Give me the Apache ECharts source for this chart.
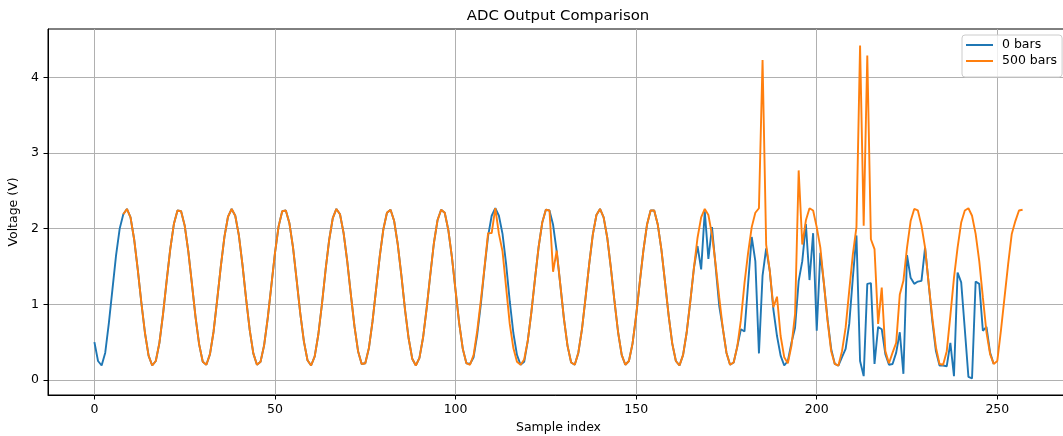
<!DOCTYPE html>
<html>
<head>
<meta charset="utf-8">
<script src="https://cdn.jsdelivr.net/npm/echarts@6/dist/echarts.min.js"></script>
<style>
  html, body { margin: 0; padding: 0; background: #ffffff; overflow: hidden; }
  #chart { width: 1063px; height: 436px; }
</style>
</head>
<body>
<div id="chart"></div>
<script>
// ADC samples for the two pressure cases
const zeroBarsStart = 0;
const zeroBars = [
  0.50, 0.25, 0.19, 0.36, 0.75, 1.20, 1.65, 2.00, 2.19, 2.26,
  2.15, 1.86, 1.46, 1.02, 0.62, 0.32, 0.19, 0.25, 0.49, 0.87,
  1.31, 1.73, 2.06, 2.24, 2.23, 2.04, 1.70, 1.27, 0.83, 0.47,
  0.24, 0.20, 0.34, 0.64, 1.06, 1.50, 1.89, 2.16, 2.26, 2.17,
  1.91, 1.52, 1.07, 0.66, 0.35, 0.20, 0.24, 0.46, 0.82, 1.25,
  1.68, 2.03, 2.23, 2.24, 2.07, 1.75, 1.32, 0.88, 0.51, 0.26,
  0.19, 0.31, 0.60, 1.00, 1.45, 1.85, 2.14, 2.26, 2.19, 1.94,
  1.57, 1.13, 0.71, 0.38, 0.21, 0.22, 0.42, 0.77, 1.20, 1.63,
  1.99, 2.21, 2.25, 2.10, 1.79, 1.38, 0.93, 0.55, 0.28, 0.19,
  0.29, 0.56, 0.95, 1.39, 1.81, 2.11, 2.25, 2.21, 1.98, 1.62,
  1.18, 0.75, 0.41, 0.22, 0.21, 0.30, 0.60, 1.00, 1.47, 1.90,
  2.17, 2.27, 2.17, 1.93, 1.53, 1.04, 0.62, 0.33, 0.20, 0.24,
  0.52, 0.90, 1.34, 1.76, 2.08, 2.25, 2.24, 2.05, 1.70, 1.26,
  0.81, 0.45, 0.23, 0.20, 0.36, 0.67, 1.09, 1.53, 1.92, 2.18,
  2.26, 2.15, 1.88, 1.48, 1.04, 0.63, 0.33, 0.20, 0.25, 0.48,
  0.85, 1.29, 1.71, 2.05, 2.24, 2.24, 2.05, 1.72, 1.29, 0.85,
  0.48, 0.25, 0.19, 0.33, 0.63, 1.04, 1.48, 1.77, 1.46, 2.23,
  1.60, 2.02, 1.50, 0.98, 0.68, 0.36, 0.20, 0.23, 0.44, 0.67,
  0.64, 1.27, 1.89, 1.57, 0.35, 1.38, 1.74, 1.44, 0.93, 0.58,
  0.32, 0.19, 0.25, 0.49, 0.69, 1.31, 1.57, 2.06, 1.32, 1.94,
  0.65, 1.68, 1.27, 0.80, 0.41, 0.21, 0.19, 0.30, 0.41, 0.74,
  1.35, 1.91, 0.25, 0.05, 1.27, 1.28, 0.21, 0.70, 0.67, 0.34,
  0.20, 0.21, 0.36, 0.63, 0.08, 1.65, 1.35, 1.27, 1.30, 1.31,
  1.75, 1.27, 0.78, 0.38, 0.19, 0.19, 0.18, 0.49, 0.05, 1.42,
  1.29, 0.67, 0.04, 0.02, 1.30, 1.27, 0.65, 0.70, 0.36, 0.21
];

const fiveHundredBarsStart = 8;
const fiveHundredBars = [
  2.19, 2.26,
  2.15, 1.86, 1.46, 1.02, 0.62, 0.32, 0.19, 0.25, 0.49, 0.87,
  1.31, 1.73, 2.06, 2.24, 2.23, 2.04, 1.70, 1.27, 0.83, 0.47,
  0.24, 0.20, 0.34, 0.64, 1.06, 1.50, 1.89, 2.16, 2.26, 2.17,
  1.91, 1.52, 1.07, 0.66, 0.35, 0.20, 0.24, 0.46, 0.82, 1.25,
  1.68, 2.03, 2.23, 2.24, 2.07, 1.75, 1.32, 0.88, 0.51, 0.26,
  0.19, 0.31, 0.60, 1.00, 1.45, 1.85, 2.14, 2.26, 2.19, 1.94,
  1.57, 1.13, 0.71, 0.38, 0.21, 0.22, 0.42, 0.77, 1.20, 1.63,
  1.99, 2.21, 2.25, 2.10, 1.79, 1.38, 0.93, 0.55, 0.28, 0.19,
  0.29, 0.56, 0.95, 1.39, 1.81, 2.11, 2.25, 2.21, 1.98, 1.62,
  1.18, 0.75, 0.41, 0.22,
  0.20, 0.33, 0.65, 1.05, 1.48, 1.94,
  1.94, 2.27, 1.93, 1.70, 1.22, 0.74, 0.42, 0.24, 0.20, 0.27,
  0.52, 0.90, 1.34, 1.76, 2.08, 2.25, 2.24, 1.43, 1.71, 1.26,
  0.81, 0.45, 0.23, 0.20, 0.36, 0.67, 1.09, 1.53, 1.92, 2.18,
  2.26, 2.15, 1.88, 1.48, 1.04, 0.63, 0.33, 0.20, 0.25, 0.48,
  0.85, 1.29, 1.71, 2.05, 2.24, 2.24, 2.05, 1.72, 1.29, 0.85,
  0.48, 0.25, 0.19, 0.33, 0.63, 1.04, 1.48, 1.88, 2.15, 2.26,
  2.18, 1.92, 1.53, 1.09, 0.68, 0.36, 0.20, 0.23, 0.44, 0.79,
  1.28, 1.68, 2.02, 2.21, 2.27, 4.23, 1.79, 1.44, 0.96, 1.10,
  0.58, 0.30, 0.22, 0.45, 0.87, 2.77, 1.79, 2.11, 2.27, 2.24,
  2.02, 1.75, 1.27, 0.78, 0.38, 0.21, 0.19, 0.38, 0.69, 1.18,
  1.66, 2.02, 4.42, 2.04, 4.29, 1.86, 1.73, 0.74, 1.22, 0.38,
  0.22, 0.36, 0.49, 1.13, 1.31, 1.75, 2.10, 2.26, 2.24, 2.04,
  1.75, 1.27, 0.82, 0.43, 0.21, 0.20, 0.38, 0.85, 1.35, 1.75,
  2.08, 2.24, 2.27, 2.17, 1.93, 1.57, 1.09, 0.63, 0.34, 0.21,
  0.25, 0.65, 1.09, 1.53, 1.93, 2.10, 2.24, 2.25
];

const seriesNames = ['0 bars', '500 bars'];
const xTicks = [0, 50, 100, 150, 200, 250];
const yTicks = [0, 1, 2, 3, 4];

// Pair each sample with its index
function toPoints(start, values) {
  return values.map((v, i) => [start + i, v]);
}

// Axis extents padded by 5% of the data range
const allX = [zeroBarsStart, zeroBarsStart + zeroBars.length - 1,
              fiveHundredBarsStart, fiveHundredBarsStart + fiveHundredBars.length - 1];
const allY = zeroBars.concat(fiveHundredBars);
const xLo = Math.min(...allX), xHi = Math.max(...allX);
const yLo = Math.min(...allY), yHi = Math.max(...allY);
const xPad = (xHi - xLo) * 0.05, yPad = (yHi - yLo) * 0.05;

const FONT = 'DejaVu Sans';
const TXT = 12.5;
const chart = echarts.init(document.getElementById('chart'), null, { renderer: 'canvas' });

chart.setOption({
  animation: false,
  backgroundColor: '#ffffff',
  textStyle: { fontFamily: FONT },
  title: {
    text: 'ADC Output Comparison',
    left: 553,
    textAlign: 'center',
    top: 4,
    textStyle: { fontFamily: FONT, fontSize: 14.9, fontWeight: 'normal', color: '#000000' }
  },
  legend: {
    data: seriesNames,
    orient: 'vertical',
    left: 962,
    top: 35,
    icon: 'rect',
    itemWidth: 27,
    itemHeight: 2,
    itemGap: 0,
    padding: [2, 5, 8, 4],
    backgroundColor: 'rgba(255,255,255,0.8)',
    borderColor: '#cccccc',
    borderWidth: 1,
    borderRadius: 3,
    textStyle: { fontFamily: FONT, fontSize: TXT, color: '#000000', lineHeight: 16, padding: [0, 0, 0, 4] }
  },
  grid: {
    left: 48,
    right: -6,
    top: 29,
    bottom: 41,
    show: true,
    borderColor: '#000000',
    borderWidth: 1,
    containLabel: false,
    outerBoundsMode: 'none'
  },
  xAxis: {
    type: 'value',
    min: xLo - xPad,
    max: xHi + xPad,
    name: 'Sample index',
    nameLocation: 'middle',
    nameGap: 24,
    nameTextStyle: { fontFamily: FONT, fontSize: TXT, color: '#000000' },
    axisLine: { show: true, onZero: false, lineStyle: { color: '#000000', width: 1 } },
    axisTick: { show: true, inside: false, length: 4.5, customValues: xTicks, lineStyle: { color: '#000000', width: 1 } },
    axisLabel: {
      show: true, margin: 8, customValues: xTicks,
      fontFamily: FONT, fontSize: TXT, color: '#000000',
      formatter: v => String(Math.round(v))
    },
    splitLine: { show: true, lineStyle: { color: '#b0b0b0', width: 1 } }
  },
  yAxis: {
    type: 'value',
    min: yLo - yPad,
    max: yHi + yPad,
    name: 'Voltage (V)',
    nameLocation: 'middle',
    nameGap: 20,
    nameTextStyle: { fontFamily: FONT, fontSize: TXT, color: '#000000' },
    axisLine: { show: true, onZero: false, lineStyle: { color: '#000000', width: 1 } },
    axisTick: { show: true, inside: false, length: 4.5, customValues: yTicks, lineStyle: { color: '#000000', width: 1 } },
    axisLabel: {
      show: true, margin: 9, customValues: yTicks,
      fontFamily: FONT, fontSize: TXT, color: '#000000',
      formatter: v => String(Math.round(v))
    },
    splitLine: { show: true, lineStyle: { color: '#b0b0b0', width: 1 } }
  },
  series: [
    {
      name: seriesNames[0],
      type: 'line',
      data: toPoints(zeroBarsStart, zeroBars),
      showSymbol: false,
      symbol: 'none',
      color: '#1f77b4',
      lineStyle: { color: '#1f77b4', width: 1.9 },
      z: 2
    },
    {
      name: seriesNames[1],
      type: 'line',
      data: toPoints(fiveHundredBarsStart, fiveHundredBars),
      showSymbol: false,
      symbol: 'none',
      color: '#ff7f0e',
      lineStyle: { color: '#ff7f0e', width: 1.9 },
      z: 3
    }
  ]
});
</script>
</body>
</html>
